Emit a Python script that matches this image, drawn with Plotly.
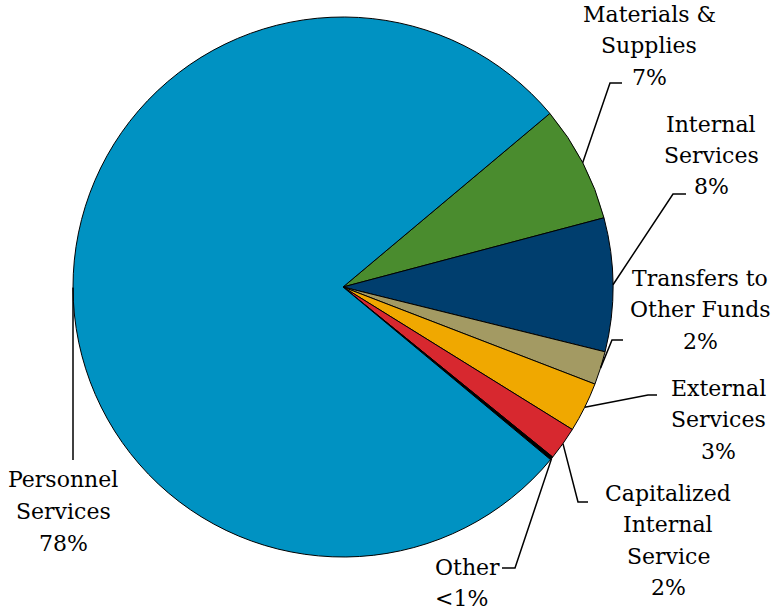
import math
import plotly.graph_objects as go

# ---- data ----
categories = ["Materials & Supplies", "Internal Services", "Transfers to Other Funds",
              "External Services", "Capitalized Internal Service", "Other", "Personnel Services"]
values = [7, 8, 2, 3, 2, 0.2, 78]
pct_labels = ["7%", "8%", "2%", "3%", "2%", "<1%", "78%"]
label_lines = [["Materials &", "Supplies"], ["Internal", "Services"], ["Transfers to", "Other Funds"],
               ["External", "Services"], ["Capitalized", "Internal", "Service"], ["Other"],
               ["Personnel", "Services"]]
colors = ["#4A8C2E", "#003E6E", "#A39A63", "#F0A800", "#D7282F", "#000000", "#0092C2"]

# ---- layout constants (pixels) ----
W, H = 776, 611
CX, CY, R = 343, 287, 270
ROTATION = 50
LINE_H = 31.5

# label placement: (text x, first line y, xanchor, elbow, end)
placements = [
    (649, 14, "center", (610, 83), (622, 83)),
    (711, 124, "center", (673, 194), (686, 194)),
    (700, 278, "center", (612, 340), (623, 340)),
    (718, 388, "center", (648, 395), (657, 395)),
    (668, 493, "center", (578, 502), (588, 502)),
    (433, 567, "left", (515, 568), (502, 568)),
    (63, 480, "center", None, (73, 460)),
]

def px(x):
    return x / W

def py(y):
    return 1 - y / H

fig = go.Figure(go.Pie(
    labels=categories, values=values, sort=False, direction="clockwise",
    rotation=ROTATION, textinfo="none", hoverinfo="label+percent",
    marker=dict(colors=colors, line=dict(color="#000000", width=1)),
    domain=dict(x=[px(CX - R), px(CX + R)], y=[py(CY + R), py(CY - R)]),
    showlegend=False,
))

total = sum(values)
annotations = []
shapes = []
cum = 0.0
font = dict(family="DejaVu Serif", size=22, color="#000000")
for i, v in enumerate(values):
    mid = ROTATION + (cum + v / 2) / total * 360
    cum += v
    a = math.radians(mid)
    sx = CX + R * math.sin(a)
    sy = CY - R * math.cos(a)
    tx, ty, anchor, elbow, end = placements[i]
    pts = [(sx, sy)] + ([elbow] if elbow else []) + [end]
    path = "M " + " L ".join(f"{px(x)},{py(y)}" for x, y in pts)
    shapes.append(dict(type="path", xref="paper", yref="paper", path=path,
                       line=dict(color="#000000", width=1.5)))
    lines = label_lines[i] + [pct_labels[i]]
    for j, t in enumerate(lines):
        annotations.append(dict(x=px(tx), y=py(ty + j * LINE_H), xref="paper", yref="paper",
                                text=t, showarrow=False, xanchor=anchor, yanchor="middle",
                                font=font))

fig.update_layout(width=W, height=H, margin=dict(l=0, r=0, t=0, b=0),
                  paper_bgcolor="white", plot_bgcolor="white",
                  annotations=annotations, shapes=shapes)
fig.write_html("out.html", config={"displayModeBar": False},
               post_script="document.body.style.margin='0';document.body.style.overflow='hidden';")
